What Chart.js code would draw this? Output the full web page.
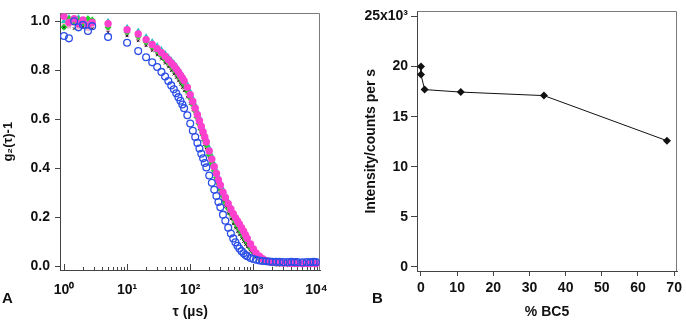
<!DOCTYPE html>
<html>
<head>
<meta charset="utf-8">
<script src="https://cdn.jsdelivr.net/npm/chart.js@4.4.1/dist/chart.umd.min.js"></script>
<style>
  html, body { margin: 0; padding: 0; background: #fff; }
  #wrap { position: relative; width: 686px; height: 321px; }
  #chartA { position: absolute; left: 0; top: 0; }
  #chartB { position: absolute; left: 340px; top: 0; }
  .tag { position: absolute; font: bold 15px "Liberation Sans", Arial, sans-serif; color: #111; }
</style>
</head>
<body>
<div id="wrap">
  <canvas id="chartA" width="340" height="321"></canvas>
  <canvas id="chartB" width="346" height="321"></canvas>
  <div class="tag" style="left:2px;top:289px;">A</div>
  <div class="tag" style="left:372px;top:289px;">B</div>
</div>
<script>
// ---- panel A: correlation functions ----
const tau = [1.0, 1.2, 1.45, 1.7, 2.0, 2.4, 2.8, 5, 10, 15, 20, 25, 30, 35, 40, 45, 50, 55, 60, 65, 70, 75, 80, 90,
  100, 110, 120, 130, 140, 150, 160, 170, 180, 200, 220, 240, 260, 280, 300, 330, 360, 400, 440, 480, 520, 560, 600,
  650, 700, 750, 800, 900, 1000, 1100, 1250, 1400, 1600, 1800, 2000, 2300, 2600, 3000, 3500, 4000, 4500, 5000, 6000,
  7000, 8000, 9000, 9800];

const gMagenta = [1.02, 0.995, 1.01, 0.99, 1.005, 0.985, 0.995, 0.99, 0.965, 0.948, 0.925, 0.905, 0.888, 0.872, 0.857,
  0.843, 0.83, 0.818, 0.805, 0.793, 0.78, 0.768, 0.757, 0.73, 0.7, 0.672, 0.645, 0.618, 0.594, 0.57, 0.548, 0.527,
  0.507, 0.47, 0.437, 0.406, 0.378, 0.352, 0.33, 0.302, 0.28, 0.255, 0.233, 0.214, 0.198, 0.184, 0.172, 0.157, 0.142,
  0.127, 0.113, 0.09, 0.07, 0.054, 0.04, 0.03, 0.022, 0.018, 0.015, 0.014, 0.013, 0.012, 0.012, 0.011, 0.012, 0.011,
  0.01, 0.011, 0.01, 0.011, 0.01];

const gCyan = [1.0, 1.015, 1.005, 1.015, 1.0, 1.01, 1.0, 1.0, 0.975, 0.96, 0.937, 0.917, 0.9, 0.884, 0.869, 0.855,
  0.842, 0.83, 0.817, 0.805, 0.792, 0.78, 0.768, 0.742, 0.713, 0.685, 0.658, 0.631, 0.607, 0.583, 0.561, 0.54, 0.52,
  0.483, 0.45, 0.418, 0.39, 0.364, 0.342, 0.313, 0.29, 0.264, 0.242, 0.222, 0.205, 0.19, 0.177, 0.161, 0.145, 0.13,
  0.116, 0.092, 0.072, 0.055, 0.041, 0.031, 0.023, 0.019, 0.016, 0.014, 0.013, 0.013, 0.012, 0.013, 0.012, 0.012,
  0.011, 0.012, 0.012, 0.011, 0.012];

const gGreen = [0.975, 1.01, 1.0, 1.005, 0.99, 1.01, 1.005, 0.975, 0.955, 0.938, 0.915, 0.895, 0.877, 0.86, 0.844,
  0.83, 0.816, 0.803, 0.79, 0.777, 0.764, 0.751, 0.739, 0.714, 0.688, 0.66, 0.633, 0.606, 0.58, 0.557, 0.534, 0.513,
  0.493, 0.455, 0.42, 0.39, 0.362, 0.336, 0.313, 0.285, 0.26, 0.235, 0.213, 0.194, 0.178, 0.163, 0.15, 0.135, 0.12,
  0.106, 0.094, 0.073, 0.056, 0.043, 0.031, 0.023, 0.017, 0.014, 0.012, 0.011, 0.01, 0.01, 0.009, 0.01, 0.009, 0.01,
  0.009, 0.01, 0.009, 0.01, 0.009];

const gPink = [0.985, 0.98, 0.99, 0.975, 0.985, 0.97, 0.975, 0.965, 0.945, 0.928, 0.905, 0.887, 0.87, 0.854, 0.838,
  0.824, 0.81, 0.797, 0.784, 0.771, 0.758, 0.745, 0.733, 0.708, 0.682, 0.654, 0.627, 0.6, 0.575, 0.552, 0.529, 0.508,
  0.488, 0.45, 0.415, 0.385, 0.357, 0.331, 0.308, 0.28, 0.255, 0.23, 0.208, 0.19, 0.174, 0.159, 0.146, 0.131, 0.116,
  0.103, 0.091, 0.07, 0.054, 0.041, 0.03, 0.022, 0.016, 0.013, 0.012, 0.011, 0.01, 0.01, 0.01, 0.009, 0.01, 0.009,
  0.01, 0.009, 0.01, 0.009, 0.01];

const gBlack = [0.975, 0.985, 0.97, 0.98, 0.975, 0.975, 0.97, 0.955, 0.94, 0.92, 0.9, 0.88, 0.862, 0.845, 0.828, 0.813,
  0.798, 0.784, 0.77, 0.756, 0.742, 0.729, 0.716, 0.69, 0.664, 0.638, 0.612, 0.587, 0.563, 0.54, 0.518, 0.497, 0.477,
  0.44, 0.405, 0.374, 0.345, 0.32, 0.297, 0.268, 0.243, 0.215, 0.192, 0.172, 0.155, 0.14, 0.127, 0.113, 0.1, 0.088,
  0.078, 0.06, 0.047, 0.037, 0.028, 0.021, 0.016, 0.013, 0.012, 0.011, 0.01, 0.01, 0.01, 0.011, 0.01, 0.01, 0.011,
  0.01, 0.01, 0.011, 0.01];

const gBlue = [0.94, 0.93, 1.0, 0.975, 0.985, 0.96, 0.98, 0.936, 0.912, 0.878, 0.853, 0.832, 0.813, 0.793, 0.774,
  0.756, 0.738, 0.722, 0.706, 0.69, 0.675, 0.66, 0.645, 0.616, 0.582, 0.553, 0.527, 0.503, 0.48, 0.459, 0.44, 0.421,
  0.403, 0.37, 0.34, 0.312, 0.286, 0.262, 0.24, 0.21, 0.185, 0.157, 0.133, 0.113, 0.097, 0.083, 0.072, 0.061, 0.052,
  0.045, 0.04, 0.033, 0.029, 0.026, 0.023, 0.021, 0.02, 0.019, 0.018, 0.017, 0.017, 0.016, 0.016, 0.017, 0.016, 0.016,
  0.015, 0.016, 0.016, 0.017, 0.016];

const tauTicks = [1, 10, 100, 1000, 10000];
const tauTickLabels = ['10⁰', '10¹', '10²', '10³', '10⁴'];
const gTicks = [0, 0.2, 0.4, 0.6, 0.8, 1.0];

// ---- panel B: intensity vs % BC5 ----
const bc5 = [0, 0, 1, 11, 34, 68];
const intensity = [20000, 19200, 17700, 17450, 17100, 12600];
const bc5Ticks = [0, 10, 20, 30, 40, 50, 60, 70];
const intensityTicks = [0, 5000, 10000, 15000, 20000, 25000];
const intensityTickLabels = ['0', '5', '10', '15', '20', '25x10³'];

const font = { family: '"Liberation Sans", Arial, sans-serif', size: 14, weight: 'bold' };
const ink = '#111';
const axisColor = '#444';

function pts(xs, ys) {
  return xs.map((x, i) => ({ x: x, y: ys[i] }));
}

// grey box round the plot area (top and right sides)
const framePlugin = {
  id: 'frame',
  beforeDatasetsDraw(chart) {
    const a = chart.chartArea;
    const ctx = chart.ctx;
    ctx.save();
    ctx.strokeStyle = '#7a7a7a';
    ctx.lineWidth = 1;
    ctx.beginPath();
    ctx.moveTo(Math.round(a.left) + 0.5, Math.round(a.top) + 0.5);
    ctx.lineTo(Math.round(a.right) - 0.5, Math.round(a.top) + 0.5);
    ctx.lineTo(Math.round(a.right) - 0.5, Math.round(a.bottom));
    ctx.stroke();
    ctx.restore();
  }
};

// inward major/minor ticks on the log axis of panel A
const logTicksPlugin = {
  id: 'logTicks',
  beforeDatasetsDraw(chart) {
    const sc = chart.scales.x;
    const ctx = chart.ctx;
    const y0 = Math.round(chart.chartArea.bottom);
    ctx.save();
    ctx.strokeStyle = axisColor;
    ctx.lineWidth = 1;
    ctx.beginPath();
    tauTicks.forEach((d, n) => {
      const last = n === tauTicks.length - 1;
      for (let k = 1; k <= (last ? 1 : 9); k++) {
        const px = Math.round(sc.getPixelForValue(k * d)) + 0.5;
        const len = k === 1 ? 6 : 3;
        ctx.moveTo(px, y0);
        ctx.lineTo(px, y0 - len);
      }
    });
    ctx.stroke();
    ctx.restore();
  }
};

new Chart(document.getElementById('chartA'), {
  type: 'scatter',
  data: {
    datasets: [
      { data: pts(tau, gBlue), pointStyle: 'circle', pointRadius: 3.4, borderWidth: 1.3,
        borderColor: '#2b4ee6', backgroundColor: 'rgba(255,255,255,0)' },
      { data: pts(tau, gMagenta), pointStyle: 'circle', pointRadius: 3.7, borderWidth: 0,
        borderColor: '#ff40cf', backgroundColor: '#ff40cf' },
      { data: pts(tau, gBlack), pointStyle: 'crossRot', pointRadius: 1.8, borderWidth: 1,
        borderColor: '#222', backgroundColor: '#222' },
      { data: pts(tau, gGreen), pointStyle: 'rectRot', pointRadius: 3.5, borderWidth: 0,
        borderColor: '#1fd62a', backgroundColor: '#1fd62a' },
      { data: pts(tau, gCyan), pointStyle: 'triangle', pointRadius: 3.6, borderWidth: 0,
        borderColor: '#2cc4c0', backgroundColor: '#2cc4c0' },
      { data: pts(tau, gPink), pointStyle: 'rect', pointRadius: 3.2, borderWidth: 0,
        borderColor: '#f5b5d5', backgroundColor: '#f5b5d5' }
    ]
  },
  options: {
    responsive: false,
    animation: false,
    layout: { padding: { left: 0, right: 17, top: 8, bottom: 0 } },
    plugins: { legend: { display: false }, tooltip: { enabled: false } },
    scales: {
      x: {
        type: 'logarithmic',
        min: 0.866,
        max: 11500,
        afterBuildTicks: s => { s.ticks = tauTicks.map(v => ({ value: v })); },
        afterFit: s => { s.height = 51; },
        grid: { display: false, drawTicks: false },
        border: { display: true, color: axisColor, width: 1 },
        ticks: {
          padding: 12, color: ink, font: font, autoSkip: false, maxRotation: 0,
          callback: v => tauTickLabels[tauTicks.indexOf(v)]
        },
        title: { display: true, text: 'τ (µs)', color: ink, font: font, padding: { top: 0, bottom: 0 } }
      },
      y: {
        min: -0.016,
        max: 1.032,
        afterBuildTicks: s => { s.ticks = gTicks.map(v => ({ value: v })); },
        afterFit: s => { s.width = 60; },
        grid: { display: true, drawOnChartArea: false, drawTicks: true, tickLength: 5, color: axisColor },
        border: { display: true, color: axisColor, width: 1 },
        ticks: { padding: 5, color: ink, font: font, callback: v => v.toFixed(1) },
        title: { display: true, text: 'g₂(τ)-1', color: ink, font: { ...font, size: 13 }, padding: { top: 1, bottom: 0 } }
      }
    }
  },
  plugins: [framePlugin, logTicksPlugin]
});

new Chart(document.getElementById('chartB'), {
  type: 'scatter',
  data: {
    datasets: [{
      data: pts(bc5, intensity),
      showLine: true,
      borderColor: '#111',
      borderWidth: 1,
      backgroundColor: '#111',
      pointStyle: 'rectRot',
      pointRadius: 4,
      pointBorderWidth: 0
    }]
  },
  options: {
    responsive: false,
    animation: false,
    layout: { padding: { left: 0, right: 6, top: 8, bottom: 0 } },
    plugins: { legend: { display: false }, tooltip: { enabled: false } },
    scales: {
      x: {
        min: -1.1,
        max: 70.8,
        afterBuildTicks: s => { s.ticks = bc5Ticks.map(v => ({ value: v })); },
        afterFit: s => { s.height = 50; },
        grid: { display: true, drawOnChartArea: false, drawTicks: true, tickLength: 5, color: axisColor },
        border: { display: true, color: axisColor, width: 1 },
        ticks: { padding: 4, color: ink, font: font, autoSkip: false, maxRotation: 0 },
        title: { display: true, text: '% BC5', color: ink, font: font, padding: { top: 0, bottom: 0 } }
      },
      y: {
        min: -400,
        max: 25500,
        afterBuildTicks: s => { s.ticks = intensityTicks.map(v => ({ value: v })); },
        afterFit: s => { s.width = 77; },
        grid: { display: true, drawOnChartArea: false, drawTicks: true, tickLength: 6, color: axisColor },
        border: { display: true, color: axisColor, width: 1 },
        ticks: {
          padding: 3, color: ink, font: font,
          callback: v => intensityTickLabels[intensityTicks.indexOf(v)]
        },
        title: { display: true, text: 'Intensity/counts per s', color: ink, font: font, padding: { top: 23, bottom: 0 } }
      }
    }
  },
  plugins: [framePlugin]
});
</script>
</body>
</html>
